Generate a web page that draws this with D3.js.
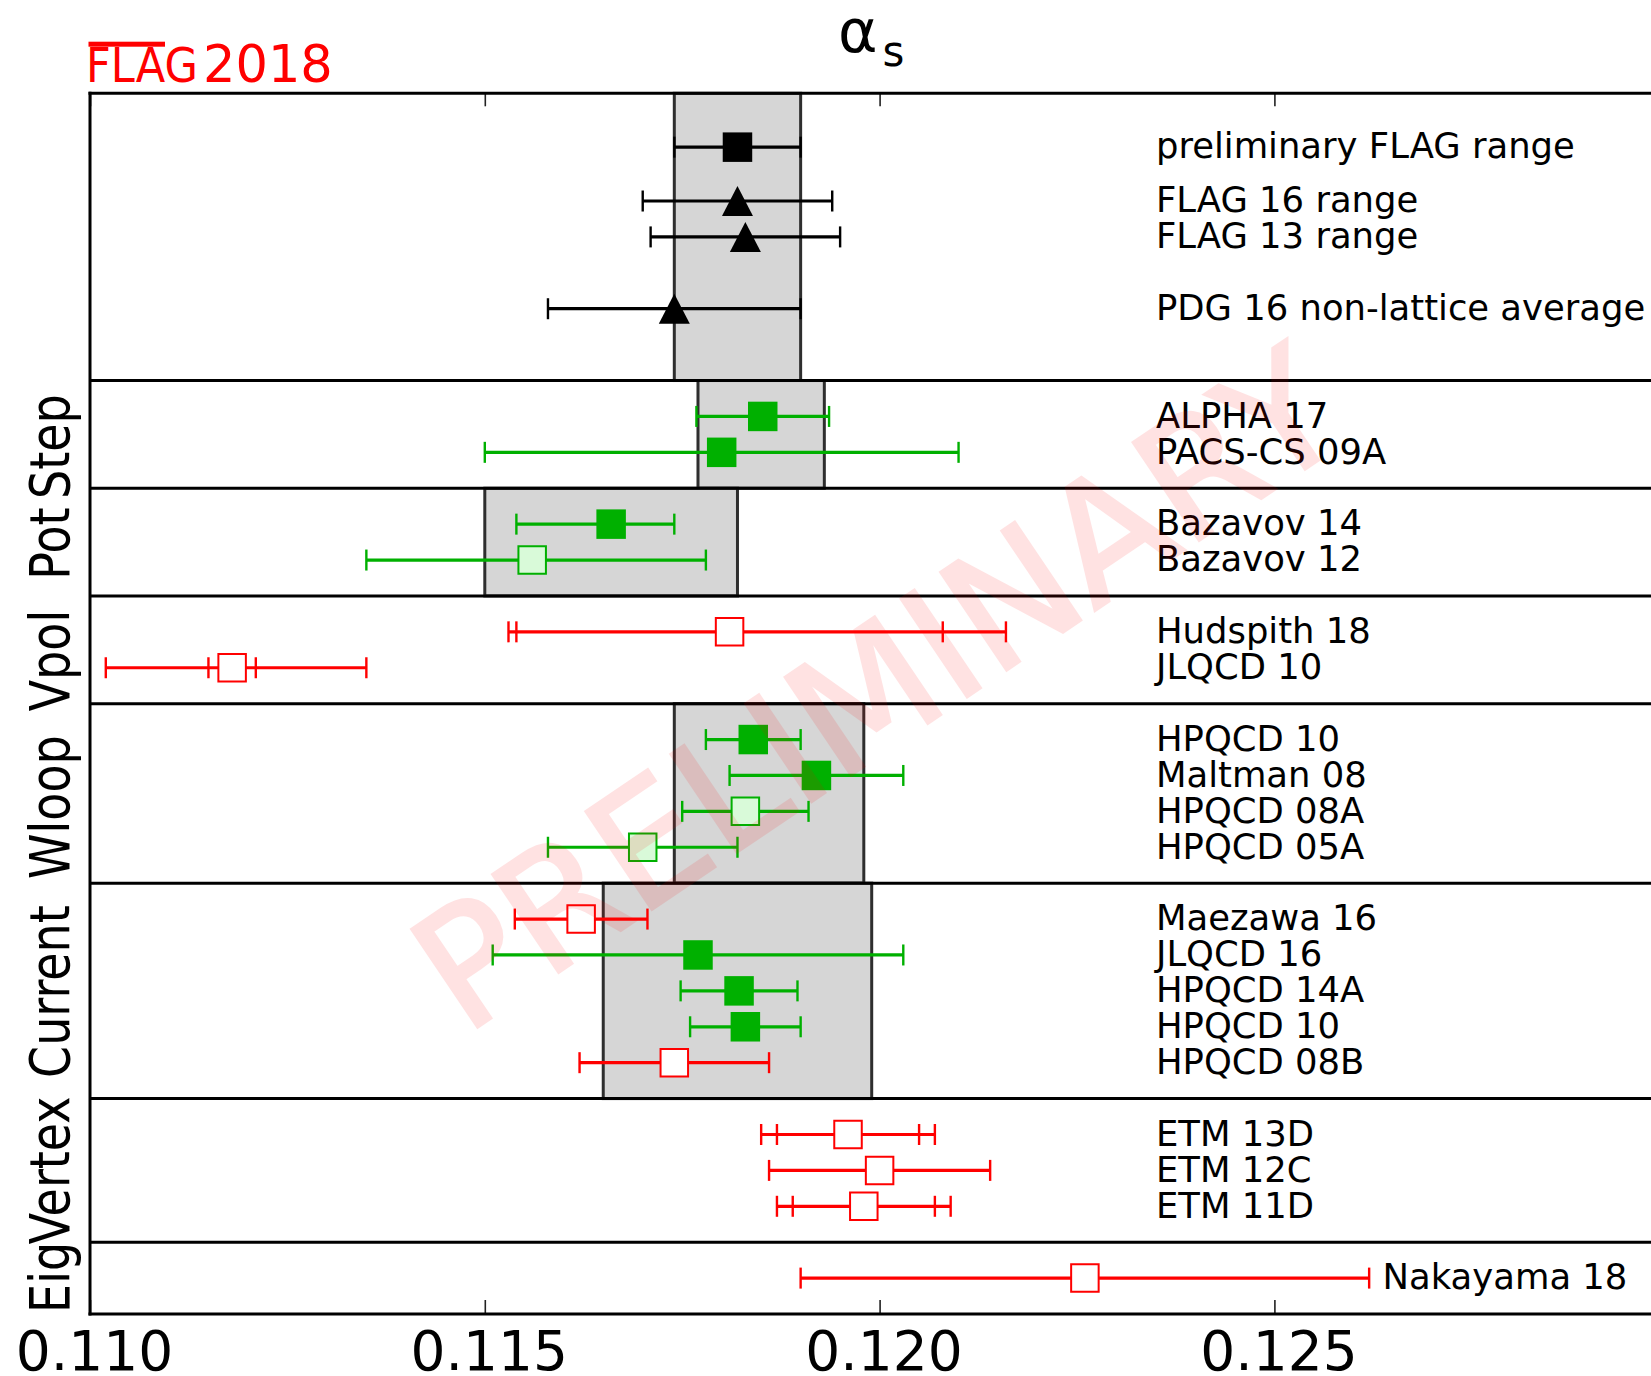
<!DOCTYPE html>
<html>
<head>
<meta charset="utf-8">
<script src="https://cdn.jsdelivr.net/npm/d3@7"></script>
<style>
  body { margin: 0; background: #fff; }
  svg { display: block; }
  text { font-family: "DejaVu Sans", sans-serif; }
</style>
</head>
<body>
<svg id="chart" width="1651" height="1376"></svg>
<script>
// ---- results: one entry per row, rows counted upward from the bottom ----
const names = [
  "preliminary FLAG range", "FLAG 16 range", "FLAG 13 range", "PDG 16 non-lattice average",
  "ALPHA 17", "PACS-CS 09A",
  "Bazavov 14", "Bazavov 12",
  "Hudspith 18", "JLQCD 10",
  "HPQCD 10", "Maltman 08", "HPQCD 08A", "HPQCD 05A",
  "Maezawa 16", "JLQCD 16", "HPQCD 14A", "HPQCD 10", "HPQCD 08B",
  "ETM 13D", "ETM 12C", "ETM 11D",
  "Nakayama 18"
];
const rows = [32.5, 31, 30, 28, 25, 24, 22, 21, 19, 18, 16, 15, 14, 13, 11, 10, 9, 8, 7, 5, 4, 3, 1];
const values = [0.1182, 0.1182, 0.1183, 0.1174, 0.11852, 0.1180, 0.1166, 0.1156, 0.1181, 0.1118,
  0.1184, 0.1192, 0.1183, 0.1170, 0.11622, 0.1177, 0.11822, 0.1183, 0.1174,
  0.1196, 0.1200, 0.1198, 0.1226];
// inner (first) error
const errLo = [0.0008, 0.0012, 0.0012, 0.0016, 0.00084, 0.0030, 0.0012, 0.0021, 0.0027, 0.0003,
  0.0006, 0.0011, 0.0008, 0.0012, 0.00084, 0.0026, 0.00074, 0.0007, 0.0012,
  0.0009, 0.0014, 0.0009, 0.0036];
const errHi = [0.0008, 0.0012, 0.0012, 0.0016, 0.00084, 0.0030, 0.0008, 0.0022, 0.0027, 0.0003,
  0.0006, 0.0011, 0.0008, 0.0012, 0.00084, 0.0026, 0.00074, 0.0007, 0.0012,
  0.0009, 0.0014, 0.0009, 0.0036];
// total error, where a second pair of caps is shown
const totLo = [null, null, null, null, null, null, null, null, 0.0028, 0.0016,
  null, null, null, null, null, null, null, null, null,
  0.0011, null, 0.0011, null];
const totHi = [null, null, null, null, null, null, null, null, 0.0035, 0.0017,
  null, null, null, null, null, null, null, null, null,
  0.0011, null, 0.0011, null];
// marker styles: ref = black, full = green filled, light = green open, open = red open
const styles = ["ref", "ref", "ref", "ref", "full", "full", "full", "light", "open", "open",
  "full", "full", "light", "light", "open", "full", "full", "full", "open",
  "open", "open", "open", "open"];
const shapes = ["square", "triangle", "triangle", "triangle", "square", "square", "square", "square", "square", "square",
  "square", "square", "square", "square", "square", "square", "square", "square", "square",
  "square", "square", "square", "square"];
// where each row's name starts on the x axis
const labelAt = [0.1235, 0.1235, 0.1235, 0.1235, 0.1235, 0.1235, 0.1235, 0.1235, 0.1235, 0.1235,
  0.1235, 0.1235, 0.1235, 0.1235, 0.1235, 0.1235, 0.1235, 0.1235, 0.1235,
  0.1235, 0.1235, 0.1235, 0.12637];

// ---- method groups ----
const panelNames = ["Step", "Pot", "Vpol", "Wloop", "Current", "Vertex", "Eig"];
const panelLabelRow = [24.16, 21.46, 18.2, 14.12, 8.98, 4.0, 1.02];
const separators = [2, 6, 12, 17, 20, 23, 26];
// grey averages: lower row, upper row, low value, high value
const bandRowLo = [26, 23, 20, 12, 6];
const bandRowHi = [34, 26, 23, 17, 12];
const bandLo = [0.1174, 0.1177, 0.1150, 0.1174, 0.1165];
const bandHi = [0.1190, 0.1193, 0.1182, 0.1198, 0.1199];

// ---- axis ----
const tickValues = [0.110, 0.115, 0.120, 0.125];
const tickLabels = ["0.110", "0.115", "0.120", "0.125"];

const colors = {
  ref:   { line: "#000000", fill: "#000000", edge: "#000000" },
  full:  { line: "#00b000", fill: "#00b000", edge: "#00b000" },
  light: { line: "#00b000", fill: "#d9fad9", edge: "#00b000" },
  open:  { line: "#ff0000", fill: "#ffffff", edge: "#ff0000" }
};

const svg = d3.select("#chart");
const W = 1651;
const x = d3.scaleLinear().domain([0.110, 0.130]).range([90, 1669.2]);
const y = d3.scaleLinear().domain([0, 34]).range([1314, 93.3]);

// grey bands
svg.append("g").selectAll("rect").data(bandLo).join("rect")
  .attr("x", (d, i) => x(bandLo[i]))
  .attr("width", (d, i) => x(bandHi[i]) - x(bandLo[i]))
  .attr("y", (d, i) => y(bandRowHi[i]))
  .attr("height", (d, i) => y(bandRowLo[i]) - y(bandRowHi[i]))
  .attr("fill", "#d6d6d6")
  .attr("stroke", "#2e2e2e")
  .attr("stroke-width", 3);

// group separators
svg.append("g").selectAll("line").data(separators).join("line")
  .attr("x1", x(0.110)).attr("x2", W)
  .attr("y1", d => y(d)).attr("y2", d => y(d))
  .attr("stroke", "#000").attr("stroke-width", 3);

// axes with inward ticks
const bottomAxis = svg.append("g")
  .attr("transform", `translate(0,${y(0)})`)
  .call(d3.axisBottom(x).tickValues(tickValues)
    .tickFormat((d, i) => tickLabels[i]).tickSize(-14).tickPadding(17));
bottomAxis.select(".domain").remove();
bottomAxis.selectAll(".tick line").attr("stroke", "#222").attr("stroke-width", 1.6);
bottomAxis.selectAll(".tick text")
  .attr("font-family", "DejaVu Sans").attr("font-size", 55).attr("fill", "#000").attr("dx", 4);

const topAxis = svg.append("g")
  .attr("transform", `translate(0,${y(34)})`)
  .call(d3.axisTop(x).tickValues(tickValues).tickFormat("").tickSize(-13));
topAxis.select(".domain").remove();
topAxis.selectAll(".tick line").attr("stroke", "#222").attr("stroke-width", 1.6);

// frame
const frame = svg.append("g").attr("stroke", "#000").attr("stroke-width", 3).attr("fill", "none");
frame.append("line").attr("x1", x(0.110)).attr("x2", x(0.110)).attr("y1", y(34) - 1.5).attr("y2", y(0) + 1.5);
frame.append("line").attr("x1", x(0.110) - 1.5).attr("x2", W).attr("y1", y(34)).attr("y2", y(34));
frame.append("line").attr("x1", x(0.110) - 1.5).attr("x2", W).attr("y1", y(0)).attr("y2", y(0));

// error bars
const idx = d3.range(names.length);
const capH = 21;
const bars = svg.append("g");
idx.forEach(i => {
  const c = colors[styles[i]];
  const lo = totLo[i] != null ? values[i] - totLo[i] : values[i] - errLo[i];
  const hi = totHi[i] != null ? values[i] + totHi[i] : values[i] + errHi[i];
  const yy = y(rows[i]);
  bars.append("line")
    .attr("x1", x(lo)).attr("x2", x(hi)).attr("y1", yy).attr("y2", yy)
    .attr("stroke", c.line).attr("stroke-width", 3.2);
  const caps = [values[i] - errLo[i], values[i] + errHi[i]];
  if (totLo[i] != null) caps.push(values[i] - totLo[i], values[i] + totHi[i]);
  caps.forEach(v => {
    bars.append("line")
      .attr("x1", x(v)).attr("x2", x(v))
      .attr("y1", yy - capH / 2).attr("y2", yy + capH / 2)
      .attr("stroke", c.line).attr("stroke-width", 2.4);
  });
});

// markers
const sq = 29.5;
const triW = 31, triH = 30;
svg.append("g").selectAll("path").data(idx).join("path")
  .attr("transform", i => `translate(${x(values[i])},${y(rows[i])})`)
  .attr("d", i => shapes[i] === "triangle"
    ? `M0,${-triH / 2}L${triW / 2},${triH / 2}L${-triW / 2},${triH / 2}Z`
    : (styles[i] === "light" || styles[i] === "open")
      ? `M${-sq / 2 + 1},${-sq / 2 + 1}h${sq - 2}v${sq - 2}h${-(sq - 2)}Z`
      : `M${-sq / 2},${-sq / 2}h${sq}v${sq}h${-sq}Z`)
  .attr("fill", i => colors[styles[i]].fill)
  .attr("stroke", i => (styles[i] === "light" || styles[i] === "open") ? colors[styles[i]].edge : "none")
  .attr("stroke-width", 2);

// row names
svg.append("g").selectAll("text").data(idx).join("text")
  .attr("x", i => x(labelAt[i]))
  .attr("y", i => y(rows[i]))
  .attr("dy", "0.32em")
  .attr("font-size", 35.4)
  .attr("fill", "#000")
  .text(i => names[i]);

// method names down the left side
svg.append("g").selectAll("text").data(panelNames).join("text")
  .attr("transform", (d, i) => `translate(69,${y(panelLabelRow[i])}) rotate(-90) scale(1,1.2)`)
  .attr("text-anchor", "middle")
  .attr("font-size", 46)
  .attr("fill", "#000")
  .text(d => d);

// title
const title = svg.append("text").attr("x", 838).attr("y", 52).attr("fill", "#000");
title.append("tspan").attr("font-size", 60).text("α");
title.append("tspan").attr("font-size", 42).attr("dy", 14).attr("dx", 5).text("s");

// FLAG logo
svg.append("text").attr("x", 86).attr("y", 82)
  .attr("font-size", 48).attr("fill", "#ff0000")
  .attr("textLength", 112).attr("lengthAdjust", "spacingAndGlyphs")
  .text("FLAG");
svg.append("rect").attr("x", 88.5).attr("y", 41.7).attr("width", 76.5).attr("height", 5)
  .attr("fill", "#ff0000");
svg.append("text").attr("x", 203).attr("y", 82)
  .attr("font-size", 51).attr("fill", "#ff0000")
  .text("2018");

// watermark
svg.append("g").attr("opacity", 0.11)
  .append("text")
  .attr("transform", "translate(876,688) rotate(-34)")
  .attr("text-anchor", "middle")
  .attr("dy", "0.36em")
  .attr("font-size", 162)
  .attr("fill", "#ff0000")
  .attr("stroke", "#ff0000")
  .attr("stroke-width", 3)
  .attr("stroke-linejoin", "miter")
  .text("PRELIMINARY");
</script>
</body>
</html>
